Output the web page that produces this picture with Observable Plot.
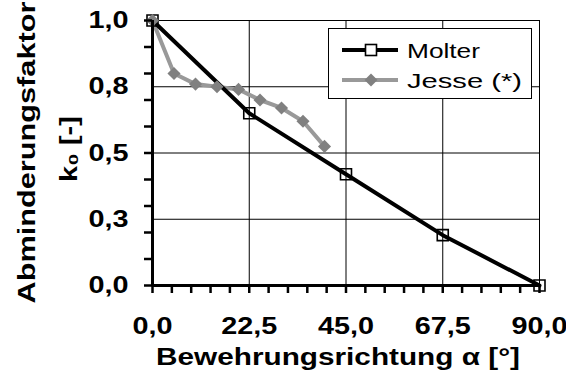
<!DOCTYPE html>
<html>
<head>
<meta charset="utf-8">
<script src="https://cdn.jsdelivr.net/npm/d3@7"></script>
<script src="https://cdn.jsdelivr.net/npm/@observablehq/plot@0.6"></script>
<style>
  html, body { margin: 0; padding: 0; background: #fff; }
  #wrap { position: relative; width: 566px; height: 376px; font-family: "Liberation Sans", Arial, sans-serif; }
  #legend { position: absolute; left: 328px; top: 28px; }
</style>
</head>
<body>
<div id="wrap">
  <div id="chart"></div>
  <div id="legend"></div>
</div>
<script>
// Data
const xTicks = [0, 22.5, 45, 67.5, 90];
const xTickLabels = ["0,0", "22,5", "45,0", "67,5", "90,0"];
const yTicks = [0, 0.25, 0.5, 0.75, 1.0];
const yTickLabels = ["0,0", "0,3", "0,5", "0,8", "1,0"];
const xMinor = [0, 4.5, 9, 13.5, 18, 22.5, 27, 31.5, 36, 40.5, 45, 49.5, 54, 58.5, 63, 67.5, 72, 76.5, 81, 85.5, 90];
const yMinor = [0, 0.1, 0.2, 0.3, 0.4, 0.5, 0.6, 0.7, 0.8, 0.9, 1.0];

const molterX = [0, 22.5, 45, 67.5, 90];
const molterY = [1.0, 0.65, 0.42, 0.19, 0.0];
const jesseX = [0, 5, 10, 15, 20, 25, 30, 35, 40];
const jesseY = [1.0, 0.80, 0.76, 0.75, 0.74, 0.70, 0.67, 0.62, 0.525];

const seriesNames = ["Molter", "Jesse (*)"];
const xTitle = "Bewehrungsrichtung α [°]";
const yTitle1 = "Abminderungsfaktor";
const yTitle2 = "k₀ [-]";

const molter = molterX.map((x, i) => ({x, y: molterY[i]}));
const jesse = jesseX.map((x, i) => ({x, y: jesseY[i]}));

const font = "'Liberation Sans', Arial, sans-serif";

const chart = Plot.plot({
  width: 566,
  height: 376,
  marginLeft: 152,
  marginRight: 27,
  marginTop: 20,
  marginBottom: 91,
  style: {fontFamily: font, background: "#fff", overflow: "visible"},
  x: {domain: [0, 90], label: null},
  y: {domain: [0, 1], label: null},
  marks: [
    Plot.gridX(xTicks.slice(1), {stroke: "#000", strokeOpacity: 1, strokeWidth: 1}),
    Plot.gridY(yTicks.slice(1), {stroke: "#000", strokeOpacity: 1, strokeWidth: 1}),
    Plot.line(jesse, {x: "x", y: "y", stroke: "#999999", strokeWidth: 4}),
    Plot.line(molter, {x: "x", y: "y", stroke: "#000", strokeWidth: 4}),
    Plot.dot(molter, {x: "x", y: "y", symbol: "square", r: 6.2, stroke: "#000", strokeWidth: 1.6, fill: "none"}),
    Plot.dot(jesse, {x: "x", y: "y", symbol: "diamond2", r: 5.9, fill: "#808080", stroke: "none"}),
    Plot.ruleY([0], {stroke: "#000", strokeWidth: 3}),
    Plot.ruleX([0], {stroke: "#000", strokeWidth: 3}),
    Plot.axisX(xMinor, {tickSize: 8, fill: "none", stroke: "#000", strokeWidth: 2.5, label: null}),
    Plot.axisY(yMinor, {tickSize: 8, fill: "none", stroke: "#000", strokeWidth: 2.5, label: null}),
    Plot.axisX(xTicks, {tickSize: 0, tickPadding: 31, tickFormat: (d, i) => xTickLabels[i], fontSize: 24, fontWeight: "bold", fill: "#000", label: null}),
    Plot.axisY(yTicks, {tickSize: 0, tickPadding: 24, tickFormat: (d, i) => yTickLabels[i], fontSize: 24, fontWeight: "bold", fill: "#000", label: null}),
    Plot.text([xTitle], {frameAnchor: "bottom", dx: -8, dy: 72, text: d => d, fontSize: 24, fontWeight: "bold", fill: "#000", lineAnchor: "middle"}),
    Plot.text([yTitle1], {frameAnchor: "bottom-left", dx: -125, dy: 18, rotate: -90, textAnchor: "start", text: d => d, fontSize: 24, fontWeight: "bold", fill: "#000", lineAnchor: "middle"}),
    Plot.text([yTitle2], {frameAnchor: "left", dx: -83, dy: 29, rotate: -90, text: d => d, fontSize: 24, fontWeight: "bold", fill: "#000", lineAnchor: "middle"})
  ]
});

// stretch text horizontally along its direction (reference glyphs are wide)
d3.select(chart).selectAll("text").each(function() {
  const t = this.getAttribute("transform") || "";
  const s = this.textContent === yTitle1 ? 1.28 : this.textContent === xTitle ? 1.24 : 1.2;
  this.setAttribute("transform", `${t} scale(${s},1)`);
});

document.getElementById("chart").appendChild(chart);

// Legend
const styles = [
  {stroke: "#000", marker: "square", len: 73},
  {stroke: "#999999", marker: "diamond", len: 115}
];
const rows = seriesNames.map((name, i) => {
  const s = styles[i];
  const cy = 22 + i * 30;
  const mk = s.marker === "square"
    ? `<rect x="37.5" y="${cy - 5.5}" width="11" height="11" fill="#fff" stroke="#000" stroke-width="1.6"/>`
    : `<path d="M43,${cy - 6.5} L49.5,${cy} L43,${cy + 6.5} L36.5,${cy} Z" fill="#808080"/>`;
  return `<line x1="14" x2="70" y1="${cy}" y2="${cy}" stroke="${s.stroke}" stroke-width="4"/>
          ${mk}
          <text x="79" y="${cy + 7.5}" font-size="21" font-family="Liberation Sans, Arial, sans-serif" fill="#000" textLength="${s.len}" lengthAdjust="spacingAndGlyphs">${name}</text>`;
}).join("");
document.getElementById("legend").innerHTML =
  `<svg width="205" height="72" style="display:block"><rect x="0.5" y="0.5" width="203" height="70" fill="#fff" stroke="#000" stroke-width="1"/>${rows}</svg>`;
</script>
</body>
</html>
